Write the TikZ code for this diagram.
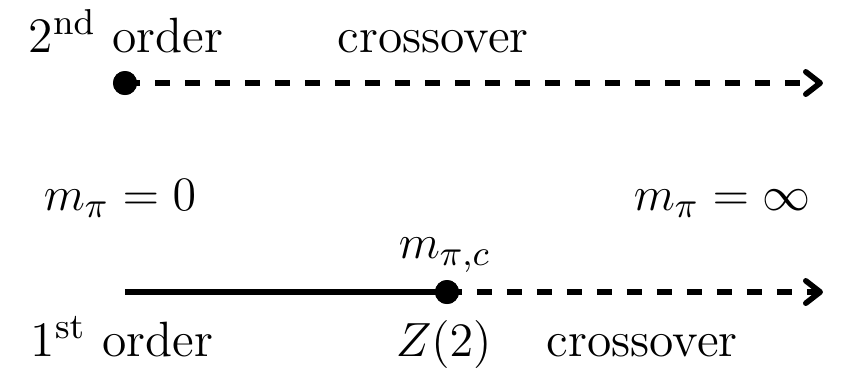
\documentclass[tikz,border=0pt]{standalone}
\usetikzlibrary{arrows.meta}
\begin{document}
\begin{tikzpicture}[x=0.25pt,y=-0.25pt,
  lbl/.style={inner sep=0pt,anchor=base west,font=\fontsize{12.4}{14}\selectfont},
  dotnode/.style={circle,fill=black,inner sep=0pt,minimum size=6pt},
  line/.style={line width=1.4pt},
  dashline/.style={line width=1.4pt,dash pattern=on 3.75pt off 3.75pt,
    -{Straight Barb[length=3.6pt,width=5.6pt,line width=1.4pt,round]}}]
\useasboundingbox (0,0) rectangle (850,368);
% top line
\node[dotnode] (d1) at (125,83) {};
\coordinate (e1) at (823,83);
\draw[dashline] (d1.center) -- (e1);
% bottom line
\coordinate (s2) at (125,292);
\node[dotnode] (d2) at (447,292) {};
\coordinate (e2) at (823,292);
\draw[line] (s2) -- (d2.center);
\draw[dashline] (d2.center) -- (e2);
\node[dotnode] at (d2) {};
\node[dotnode] at (d1) {};
% labels
\node[lbl] (t1) at (28,52) {2$^{\rm nd}$ order};
\node[lbl] (t2) at (337,52) {crossover};
\node[lbl] (t3) at (43,210) {$m_\pi = 0$};
\node[lbl] (t4) at (633,210) {$m_\pi = \infty$};
\node[lbl] (t5) at (398,258) {$m_{\pi,c}$};
\node[lbl] (t6) at (30,356) {1$^{\rm st}$ order};
\node[lbl] (t7) at (395,356) {$Z(2)$};
\node[lbl] (t8) at (546,356) {crossover};
\end{tikzpicture}
\end{document}
